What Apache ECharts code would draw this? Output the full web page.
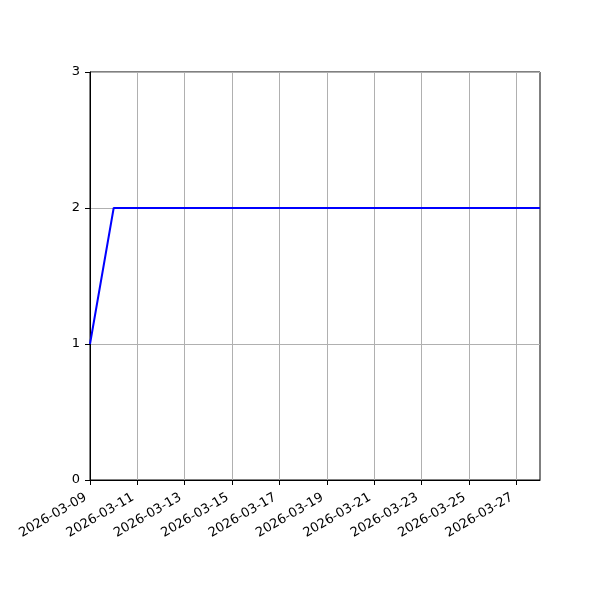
<!DOCTYPE html>
<html>
<head>
<meta charset="utf-8">
<script src="https://cdn.jsdelivr.net/npm/echarts@6/dist/echarts.min.js"></script>
<style>
html, body { margin: 0; padding: 0; background: #fff; }
#chart { width: 600px; height: 600px; }
</style>
</head>
<body>
<div id="chart"></div>
<script>
var dates = ['2026-03-09', '2026-03-10', '2026-03-11', '2026-03-12', '2026-03-13',
    '2026-03-14', '2026-03-15', '2026-03-16', '2026-03-17', '2026-03-18',
    '2026-03-19', '2026-03-20', '2026-03-21', '2026-03-22', '2026-03-23',
    '2026-03-24', '2026-03-25', '2026-03-26', '2026-03-27', '2026-03-28'];
var values = [1, 2, 2, 2, 2, 2, 2, 2, 2, 2, 2, 2, 2, 2, 2, 2, 2, 2, 2, 2];
var yTicks = [0, 1, 2, 3];

var myChart = echarts.init(document.getElementById('chart'));
var font = 'DejaVu Sans';
var option = {
    animation: false,
    grid: {
        left: 90,
        right: 60,
        top: 72,
        bottom: 120,
        show: true,
        borderColor: '#000',
        borderWidth: 1
    },
    xAxis: {
        type: 'category',
        data: dates,
        boundaryGap: false,
        axisLine: { lineStyle: { color: '#000', width: 1 } },
        axisTick: { interval: 1, length: 5, inside: false, lineStyle: { color: '#000' } },
        axisLabel: {
            interval: 1,
            rotate: 30,
            margin: 14,
            padding: [0, 5, 0, 0],
            color: '#000',
            fontSize: 13,
            fontFamily: font
        },
        splitLine: { show: true, interval: 1, lineStyle: { color: '#b0b0b0', width: 1 } }
    },
    yAxis: {
        type: 'value',
        min: yTicks[0],
        max: yTicks[yTicks.length - 1],
        interval: 1,
        axisLine: { show: true, lineStyle: { color: '#000', width: 1 } },
        axisTick: { show: true, length: 5, lineStyle: { color: '#000' } },
        axisLabel: {
            margin: 10,
            color: '#000',
            fontSize: 13,
            fontFamily: font
        },
        splitLine: { show: true, lineStyle: { color: '#b0b0b0', width: 1 } }
    },
    series: [{
        type: 'line',
        data: values,
        showSymbol: false,
        symbol: 'none',
        lineStyle: { color: '#0000ff', width: 2 },
        itemStyle: { color: '#0000ff' }
    }]
};
myChart.setOption(option);
</script>
</body>
</html>
